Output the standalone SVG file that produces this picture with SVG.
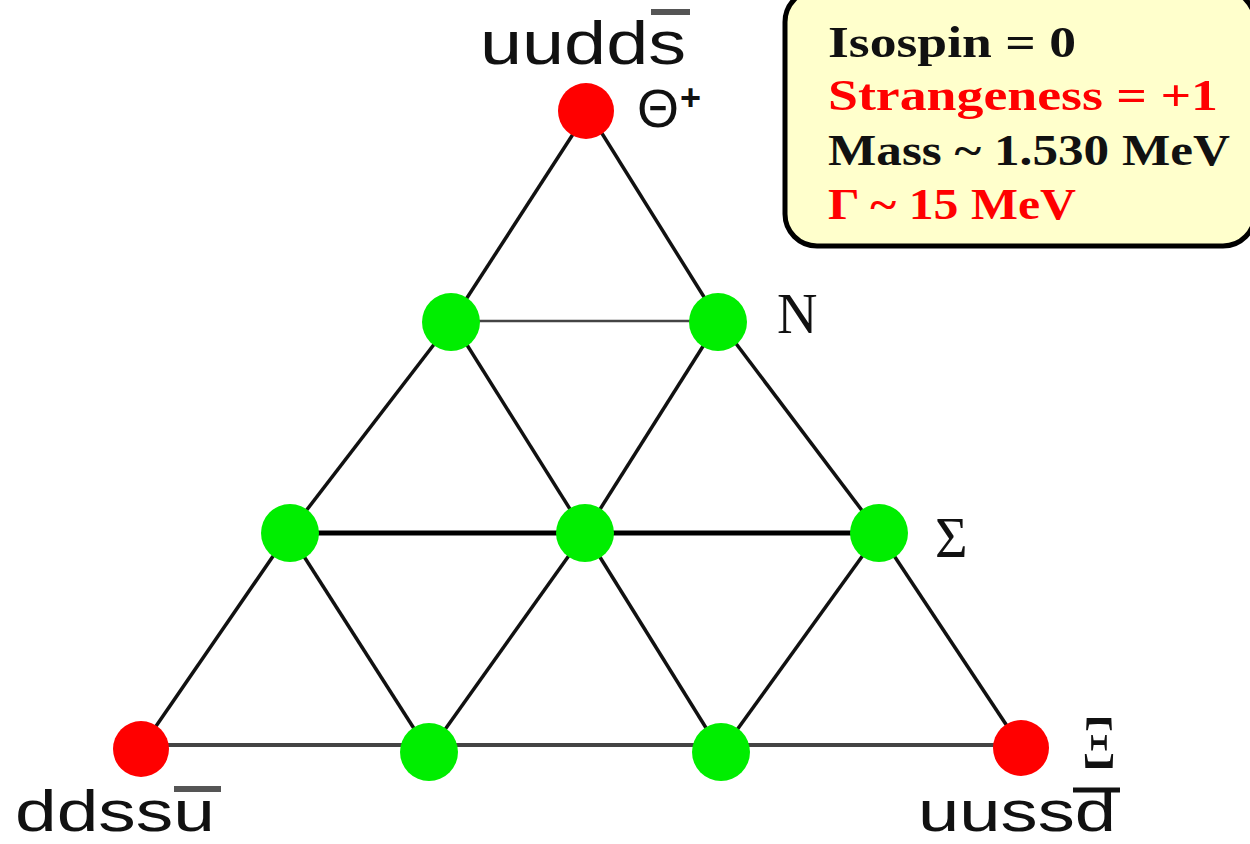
<svg xmlns="http://www.w3.org/2000/svg" width="1250" height="844" viewBox="0 0 1250 844">
<style>
.e{stroke:#111;stroke-width:3.5;fill:none}
.g{fill:#00ee00}
.r{fill:#ff0000}
.q{font-family:"Liberation Sans",Arial,sans-serif;font-size:62px;fill:#111}
.qb{font-family:"Liberation Sans",Arial,sans-serif;font-size:57px;fill:#111}
.sym{font-family:"Liberation Serif","Times New Roman",serif;font-size:56px;fill:#111}
.info{font-family:"Liberation Serif","Times New Roman",serif;font-weight:bold;font-size:44px}
.bar{stroke:#555;stroke-width:6}
</style>
<rect width="1250" height="844" fill="#fff"/>
<g id="connectors">
<line class="e" x1="588" y1="111" x2="452" y2="321"/>
<line class="e" x1="588" y1="111" x2="719" y2="321"/>
<line x1="452" y1="321" x2="719" y2="321" stroke="#444" stroke-width="2.5"/>
<line class="e" x1="452" y1="321" x2="289" y2="533"/>
<line class="e" x1="452" y1="321" x2="585" y2="533"/>
<line class="e" x1="719" y1="321" x2="585" y2="533"/>
<line class="e" x1="719" y1="321" x2="879" y2="533"/>
<line x1="289" y1="533" x2="879" y2="533" stroke="#000" stroke-width="5"/>
<line class="e" x1="289" y1="533" x2="141" y2="748"/>
<line class="e" x1="289" y1="533" x2="429" y2="752"/>
<line class="e" x1="585" y1="533" x2="429" y2="752"/>
<line class="e" x1="585" y1="533" x2="721" y2="752"/>
<line class="e" x1="879" y1="533" x2="721" y2="752"/>
<line class="e" x1="879" y1="533" x2="1021" y2="747"/>
<line x1="141" y1="745" x2="1021" y2="745" stroke="#444" stroke-width="4"/>
</g>
<g id="theta"><circle class="r" cx="586" cy="111" r="28"/><text x="637" y="127" font-family="Liberation Sans,Arial,sans-serif" font-size="54" fill="#111">Θ</text><text x="680" y="110" font-family="Liberation Sans,Arial,sans-serif" font-size="36" font-weight="bold" fill="#111">+</text></g>
<g id="n1"><circle class="g" cx="451" cy="322" r="29"/></g>
<g id="n2"><circle class="g" cx="718" cy="322" r="29"/><text class="sym" x="777" y="333">N</text></g>
<g id="s1"><circle class="g" cx="290" cy="533" r="29"/></g>
<g id="s2"><circle class="g" cx="585" cy="533" r="29"/></g>
<g id="s3"><circle class="g" cx="879" cy="533" r="29"/><text class="sym" x="935" y="557">Σ</text></g>
<g id="b1"><circle class="r" cx="141" cy="749" r="28"/></g>
<g id="b2"><circle class="g" cx="429" cy="752" r="29"/></g>
<g id="b3"><circle class="g" cx="721" cy="752" r="29"/></g>
<g id="b4"><circle class="r" cx="1021" cy="748" r="28"/><text x="1082" y="768" font-family="Liberation Serif,Times New Roman,serif" font-size="76" fill="#111" textLength="34" lengthAdjust="spacingAndGlyphs">Ξ</text></g>
<g id="label-top"><text class="q" x="480" y="64" textLength="206" lengthAdjust="spacingAndGlyphs">uudds</text><line class="bar" x1="651" y1="12" x2="690" y2="12"/></g>
<g id="label-bl"><text class="qb" x="15" y="831" textLength="200" lengthAdjust="spacingAndGlyphs">ddssu</text><line class="bar" x1="174" y1="789" x2="221" y2="789"/></g>
<g id="label-br"><text class="qb" x="918" y="831" textLength="198" lengthAdjust="spacingAndGlyphs">uussd</text><line x1="1073" y1="790" x2="1120" y2="790" stroke="#111" stroke-width="5"/></g>
<g id="infobox">
<rect x="785" y="-10" width="470" height="256" rx="32" fill="#ffffcc" stroke="#000" stroke-width="5"/>
<text class="info" x="828" y="57" fill="#111" textLength="248" lengthAdjust="spacingAndGlyphs">Isospin = 0</text>
<text class="info" x="828" y="110" fill="#ff0000" textLength="390" lengthAdjust="spacingAndGlyphs">Strangeness = +1</text>
<text class="info" x="828" y="165" fill="#111" textLength="402" lengthAdjust="spacingAndGlyphs">Mass ~ 1.530 MeV</text>
<text class="info" x="828" y="219" fill="#ff0000" textLength="248" lengthAdjust="spacingAndGlyphs">Γ ~ 15 MeV</text>
</g>
</svg>
